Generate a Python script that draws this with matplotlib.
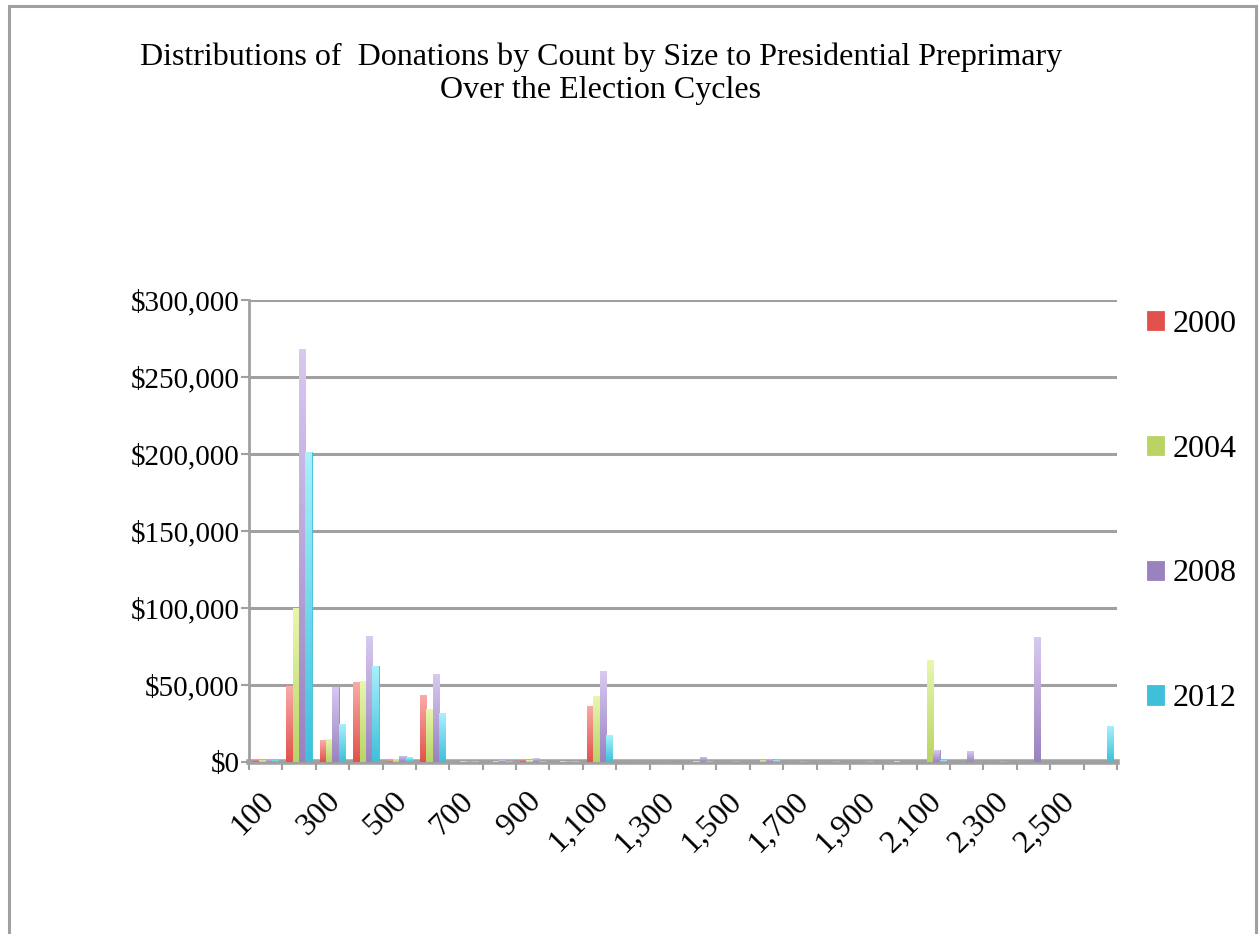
import matplotlib.pyplot as plt
import numpy as np
from matplotlib.colors import LinearSegmentedColormap
from matplotlib.patches import Rectangle
from matplotlib.ticker import FuncFormatter
from matplotlib.transforms import ScaledTranslation

plt.rcParams['font.family'] = ['Liberation Serif', 'DejaVu Serif']

# donation size buckets (dollars)
sizes = list(range(100, 2700, 100))

# dollars per bucket, in thousands
y2000 = [1.5, 49.5, 14, 52, 1, 43.5, 0.5, 0.5, 1.5, 0.5, 36.5, 0, 0, 0, 0, 0,
         0, 0, 0, 0, 0, 0, 0, 0, 0, 0]
y2004 = [1.5, 100, 15, 52.5, 2, 34.5, 0.5, 0.5, 1, 0.5, 43, 0.3, 0.3, 0.5, 0.3, 1.5,
         0.3, 0.3, 0.3, 0.5, 66, 0, 0, 0, 0, 0]
y2008 = [1.5, 268, 49, 82, 4, 57, 0.5, 1, 2.5, 0.5, 59, 0.8, 0.8, 3.5, 0.5, 2,
         0.5, 0.5, 0.5, 0.8, 7.5, 7, 0.5, 81, 0, 0]
y2012 = [1.5, 201, 25, 62.5, 3, 31.5, 0.5, 0.5, 0.5, 0.5, 17.5, 0.3, 0.3, 0.5, 0.3, 1,
         0.3, 0.3, 0.3, 0.3, 1, 0.3, 0.3, 0.3, 0.3, 23.5]

years = ['2000', '2004', '2008', '2012']
series = [y2000, y2004, y2008, y2012]
# (light top, dark bottom) for each year
shades = [('#F9ABA8', '#E2524C'), ('#E8F7AE', '#B9D465'),
          ('#D8C9F0', '#9A82C0'), ('#A8F0FC', '#3EC0DA')]

title = ('Distributions of  Donations by Count by Size to Presidential Preprimary\n'
         'Over the Election Cycles')

W, H = 1259, 934
fig = plt.figure(figsize=(W / 100, H / 100), dpi=100)
ax = fig.add_axes([249 / W, 1 - 762 / H, (1117 - 249) / W, (762 - 300) / H])

# outer chart frame (open at the bottom)
fig.patches.append(Rectangle((9 / W, -0.05), (1256 - 9) / W, 1.05 - 6 / H,
                             transform=fig.transFigure, fill=False,
                             edgecolor='#A0A0A0', lw=2.2))

x = np.arange(len(sizes))
w = 0.19
grey = '#A0A0A0'

for i, (vals, (light, dark)) in enumerate(zip(series, shades)):
    vals = np.array(vals) * 1000
    bars = ax.bar(x + (i - 1.5) * w, vals, width=w, color=dark,
                  edgecolor=dark, lw=0.6, zorder=3, label=years[i])
    cmap = LinearSegmentedColormap.from_list(years[i], [dark, light])
    grad = np.linspace(0, 1, 64).reshape(-1, 1)
    for b in bars:
        h = b.get_height()
        if h <= 0:
            continue
        x0 = b.get_x()
        im = ax.imshow(grad, cmap=cmap, origin='lower', aspect='auto',
                       extent=[x0, x0 + b.get_width(), 0, h], zorder=3.5)
        im.set_clip_path(b)

ax.set_xlim(-0.5, len(sizes) - 0.5)
ax.set_ylim(0, 300000)
ax.set_yticks(np.arange(0, 300001, 50000))
ax.yaxis.set_major_formatter(FuncFormatter(lambda v, p: f'${v:,.0f}'))
ax.grid(axis='y', color=grey, lw=2.2, zorder=0)
ax.set_axisbelow(True)

ax.set_xticks(x[::2])
ax.set_xticklabels([f'{s:,}' for s in sizes[::2]], rotation=45, ha='right',
                   va='center', rotation_mode='anchor')
ax.set_xticks(np.arange(-0.5, len(sizes), 1), minor=True)
ax.tick_params(axis='x', which='major', length=0, labelsize=23, pad=25)
ax.tick_params(axis='x', which='minor', length=6, width=1.5, color=grey)
ax.tick_params(axis='y', length=5.5, width=1.5, color=grey, labelsize=21, pad=1.5)
shift = ScaledTranslation(4 / 100, 0, fig.dpi_scale_trans)
for lbl in ax.get_xticklabels():
    lbl.set_transform(lbl.get_transform() + shift)

for s in ['top', 'right']:
    ax.spines[s].set_visible(False)
ax.spines['left'].set_color(grey)
ax.spines['left'].set_linewidth(2)
ax.spines['bottom'].set_color(grey)
ax.spines['bottom'].set_linewidth(4)

fig.text(601 / W, 1 - 42 / H, title, ha='center', va='top', fontsize=23,
         linespacing=1.2)

leg = ax.legend(loc='upper left', bbox_to_anchor=(1134 / W, 1 - 297 / H),
                bbox_transform=fig.transFigure, frameon=False, fontsize=23,
                handlelength=0.55, handleheight=0.55, handletextpad=0.25,
                labelspacing=3.0, borderaxespad=0)
for hnd, (light, dark) in zip(leg.legend_handles, shades):
    hnd.set_facecolor(dark)

fig.savefig('out.png', dpi=100)
